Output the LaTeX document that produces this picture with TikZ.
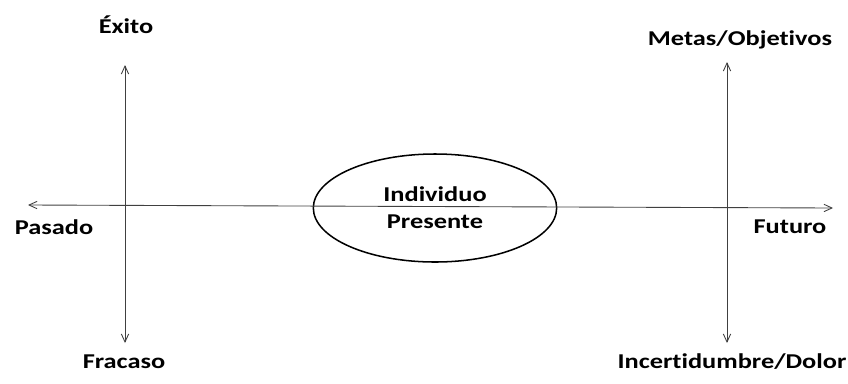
\documentclass[tikz,border=0pt]{standalone}
\usepackage{fontspec}
\setmainfont{Carlito}[FakeStretch=1.25,Ligatures={NoCommon}]
\usetikzlibrary{arrows.meta,shapes.geometric}
\begin{document}
\begin{tikzpicture}[x=0.03cm,y=-0.03cm,
 every node/.style={font=\bfseries\fontsize{18}{23}\selectfont,inner sep=0pt},
 eje/.style={draw=black!75,line width=0.75pt,{Straight Barb[length=2.4mm,width=2.2mm]}-{Straight Barb[length=2.4mm,width=2.2mm]}}]
\useasboundingbox (0,0) rectangle (848,383);
\coordinate (pasEnd) at (28,205);
\coordinate (futEnd) at (833,208);
\coordinate (exiEnd) at (125,65);
\coordinate (fraEnd) at (125,343);
\coordinate (metEnd) at (727,62);
\coordinate (incEnd) at (727,343);
\node[ellipse,draw,line width=1.3pt,minimum width=7.3cm,minimum height=3.24cm,align=center] (ind) at (435,208) {Individuo\\Presente};
\draw[eje] (pasEnd) -- (futEnd);
\draw[eje] (exiEnd) -- (fraEnd);
\draw[eje] (metEnd) -- (incEnd);
\node (exi) at (126,25) {Éxito};
\node (fra) at (124,362) {Fracaso};
\node (pas) at (54,227) {Pasado};
\node (fut) at (790,227) {Futuro};
\node (met) at (740,40) {Metas/Objetivos};
\node (inc) at (732,362) {Incertidumbre/Dolor};
\end{tikzpicture}
\end{document}
